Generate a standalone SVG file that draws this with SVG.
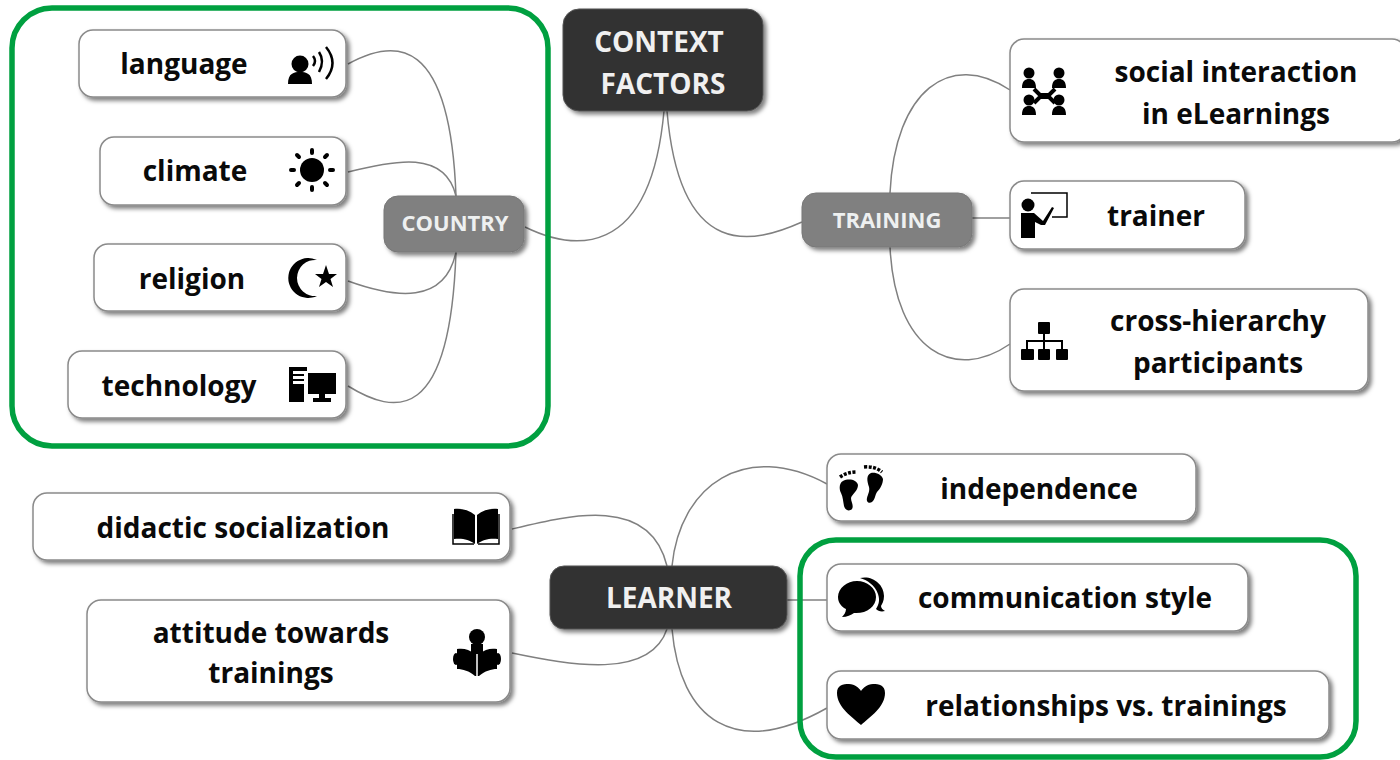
<svg xmlns="http://www.w3.org/2000/svg" width="1400" height="760" viewBox="0 0 1400 760">
<style>
text{font-family:"Open Sans","Noto Sans","DejaVu Sans",sans-serif;font-weight:700;text-anchor:middle}
.leaf>rect{fill:#fff;stroke:#8a8a8a;stroke-width:1.5;filter:url(#sh)}
.leaf text{font-size:28px;fill:#0a0a0a}
.dark>rect{fill:#333;stroke:#555;stroke-width:1;filter:url(#sh)}
.dark text{font-size:28px;fill:#f0f0f0}
.mid>rect{fill:#808080;stroke:#777;stroke-width:1;filter:url(#sh)}
.mid text{font-size:22px;fill:#eef0f0}
#connectors path{fill:none;stroke:#808080;stroke-width:1.5}
.frame{fill:none;stroke:#00a040;stroke-width:5.500}
.ic{fill:#000;stroke:none}
.il{fill:none;stroke:#000}
</style>
<defs>
<filter id="sh" x="-10%" y="-20%" width="125%" height="150%"><feDropShadow dx="3" dy="3" stdDeviation="2" flood-color="#000" flood-opacity="0.5"/></filter>
</defs>
<rect width="1400" height="760" fill="#fff"/>
<g id="connectors">
<path d="M348 64C395 38 450 35 456 196"/>
<path d="M348 172C395 160 445 150 456 196"/>
<path d="M348 281C395 298 445 305 456 252"/>
<path d="M348 386C395 415 450 425 456 252"/>
<path d="M525 227C570 249 650 264 664 111"/>
<path d="M802 222C755 243 680 264 667 111"/>
<path d="M890 193C895 90 950 50 1010 90"/>
<path d="M972 218H1010"/>
<path d="M890 247C895 352 955 382 1010 344"/>
<path d="M512 529C570 515 650 495 667 566"/>
<path d="M512 653C570 665 650 680 667 629"/>
<path d="M672 566C680 485 745 440 827 484"/>
<path d="M787 600H827"/>
<path d="M672 629C680 720 735 760 827 708"/>
</g>
<rect class="frame" x="12" y="8" width="536" height="438" rx="40"/>
<rect class="frame" x="800" y="540" width="556" height="217" rx="36"/>

<g id="context-factors" class="dark"><rect x="563" y="9" width="200" height="102" rx="16"/><text x="659" y="52">CONTEXT</text><text x="663" y="94">FACTORS</text></g>
<g id="country" class="mid"><rect x="384" y="196" width="140" height="56" rx="14"/><text x="455" y="231">COUNTRY</text></g>
<g id="training" class="mid"><rect x="802" y="193" width="170" height="54" rx="14"/><text x="887" y="228">TRAINING</text></g>
<g id="learner" class="dark"><rect x="550" y="566" width="237" height="63" rx="14"/><text x="669" y="608">LEARNER</text></g>

<g id="language" class="leaf"><rect x="79" y="30" width="267" height="67" rx="14"/><text x="184" y="74">language</text>
<circle class="ic" cx="300" cy="64" r="8.500"/><path class="ic" d="M288 84C288 73 294 72 300 72S312 73 312 84Z"/>
<path class="il" stroke-width="2.500" d="M313 56Q317 61 313 66M319 52Q325 61 319 72M326 47Q339 63 326 79"/></g>

<g id="climate" class="leaf"><rect x="100" y="137" width="246" height="68" rx="14"/><text x="195" y="181">climate</text>
<circle class="ic" cx="312" cy="170" r="12"/><path class="il" stroke-width="4" stroke-linecap="round" d="M312 150V153M312 187V190M291 170H294M330 170H333M297 155L299 157M325 183L327 185M297 185L299 183M325 157L327 155"/></g>

<g id="religion" class="leaf"><rect x="94" y="244" width="252" height="67" rx="14"/><text x="192" y="289">religion</text>
<path class="ic" d="M317 260A20 20 0 1 0 317 296A18.100 18.100 0 1 1 317 260Z"/><path class="ic" d="M326 265L329 274H337L330.500 279L333 287L326 282L319 287L321.500 279L315 274H323Z"/></g>

<g id="technology" class="leaf"><rect x="68" y="351" width="278" height="67" rx="14"/><text x="179" y="396">technology</text>
<path class="ic" d="M289 367H307V371H293V374H304V376H293V379H304V381H293V384H304V402H289Z"/><path class="ic" d="M308 373H336V394H325V398H331V402H313V398H319V394H308Z"/></g>

<g id="social-interaction" class="leaf"><rect x="1010" y="39" width="396" height="103" rx="14"/><text x="1236" y="82">social interaction</text><text x="1236" y="124">in eLearnings</text>
<g class="ic"><circle cx="1029" cy="73" r="5.500"/><circle cx="1059" cy="73" r="5.500"/><circle cx="1029" cy="100" r="5.500"/><circle cx="1059" cy="100" r="5.500"/>
<path d="M1022 88C1022 81 1025 79 1029 79S1036 81 1036 88ZM1052 88C1052 81 1055 79 1059 79S1066 81 1066 88ZM1022 115C1022 108 1025 106 1029 106S1036 108 1036 115ZM1052 115C1052 108 1055 106 1059 106S1066 108 1066 115Z"/></g>
<path class="il" stroke-width="4" d="M1034 89L1040 95H1049L1055 89M1034 103L1040 97H1049L1055 103"/></g>

<g id="trainer" class="leaf"><rect x="1010" y="181" width="235" height="68" rx="14"/><text x="1156" y="226">trainer</text>
<path class="il" stroke="#666" stroke-width="1.500" d="M1031 193H1067V217H1052"/>
<circle class="ic" cx="1028" cy="205" r="6.500"/><path class="ic" d="M1021 213H1034L1043 221L1052 207L1054 208L1045 225H1041L1035 222V238H1021Z"/></g>

<g id="cross-hierarchy" class="leaf"><rect x="1010" y="289" width="358" height="102" rx="14"/><text x="1218" y="331">cross-hierarchy</text><text x="1218" y="373">participants</text>
<g class="ic"><rect x="1038" y="322" width="12" height="12" rx="1"/><rect x="1021" y="349" width="13" height="11" rx="1"/><rect x="1038" y="349" width="12" height="11" rx="1"/><rect x="1056" y="349" width="12" height="11" rx="1"/></g>
<path class="il" stroke-width="2" d="M1044 334V349M1027 349V341H1062V349"/></g>

<g id="didactic" class="leaf"><rect x="33" y="493" width="477" height="67" rx="14"/><text x="243" y="538">didactic socialization</text>
<path class="ic" d="M475 515C469 510 461 508 454 509V539C461 538 469 539 475 544ZM477 515C483 510 491 508 498 509V539C491 538 483 539 477 544Z"/>
<path class="il" stroke-width="1.500" d="M453 514V544H474M499 514V544H478"/></g>

<g id="attitude" class="leaf"><rect x="87" y="600" width="423" height="102" rx="14"/><text x="271" y="643">attitude towards</text><text x="271" y="683">trainings</text>
<circle class="ic" cx="477" cy="637" r="8"/><path class="ic" d="M471 644H483V652L479 654C485 649 491 648 497 649V669C491 669 485 671 479 676H475C469 671 463 669 457 669V649C463 648 469 649 475 654L471 652Z"/><path d="M477 654V676" stroke="#fff" stroke-width="1.500"/>
<ellipse class="ic" cx="456" cy="659" rx="3" ry="6"/><ellipse class="ic" cx="498" cy="659" rx="3" ry="6"/></g>

<g id="independence" class="leaf"><rect x="827" y="454" width="369" height="67" rx="14"/><text x="1039" y="499">independence</text>
<path class="ic" d="M843 481C849 478 857 480 858 485C858 491 852 494 851 498C851 502 854 505 852 509C849 512 845 510 844 506C843 501 843 497 841 493C839 489 839 483 843 481Z"/>
<path class="ic" d="M871 473C876 472 882 475 883 479C883 484 880 489 877 492C875 495 875 500 872 502C869 504 866 502 867 498C868 494 870 491 869 487C867 481 866 475 871 473Z"/>
<path class="il" stroke-width="3.500" stroke-dasharray="3 1.500" d="M840 477Q847 472 857 472M864 467Q875 466 882 472"/></g>

<g id="communication" class="leaf"><rect x="827" y="564" width="421" height="67" rx="14"/><text x="1065" y="608">communication style</text>
<path class="ic" d="M857 581C847 581 838 588 838 597C838 603 842 607 846 609C846 612 844 615 842 617C847 617 851 615 854 613C866 614 876 607 876 597C876 588 867 581 857 581Z"/>
<path class="ic" d="M860 578C872 575 884 584 884 596C884 601 882 604 881 606C881 608 883 610 885 611C881 612 878 611 876 609C879 604 880 600 878 594C875 585 867 580 860 578Z"/></g>

<g id="relationships" class="leaf"><rect x="827" y="671" width="502" height="68" rx="14"/><text x="1106" y="716">relationships vs. trainings</text>
<path class="ic" d="M861 725C852 717 837 707 837 693C837 685 843 684 849 684C855 684 859 688 861 691C863 688 867 684 873 684C879 684 885 685 885 693C885 707 870 717 861 725Z"/></g>
</svg>
